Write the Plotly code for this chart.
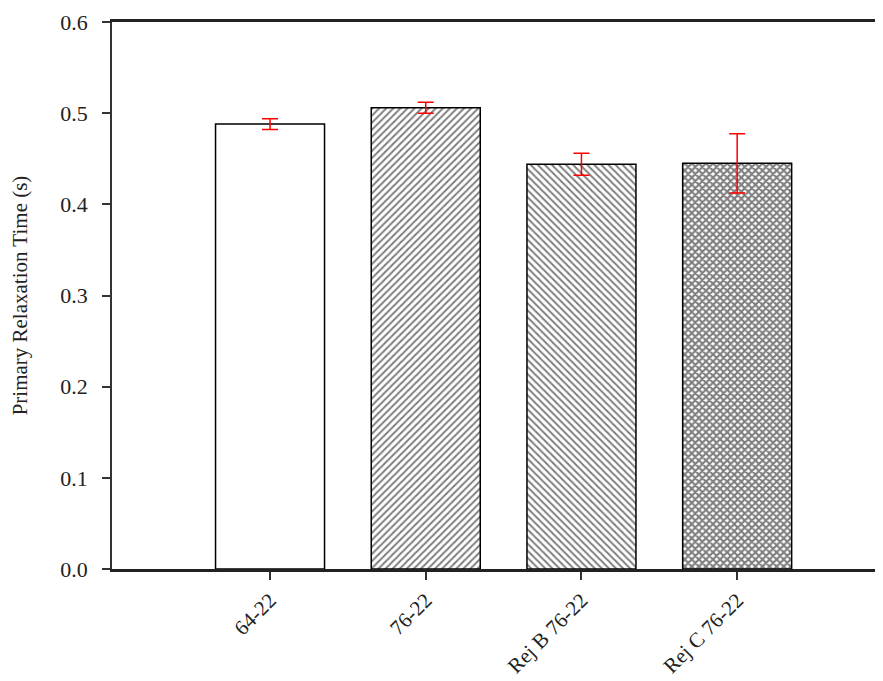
import plotly.graph_objects as go

categories = ["64-22", "76-22", "Rej B 76-22", "Rej C 76-22"]
values = [0.488, 0.506, 0.444, 0.445]
errors = [0.006, 0.006, 0.012, 0.0325]
patterns = ["", "/", "\\", "x"]
y_ticks = [0.0, 0.1, 0.2, 0.3, 0.4, 0.5, 0.6]

fig = go.Figure()
fig.add_trace(go.Bar(
    x=list(range(len(categories))),
    y=values,
    width=0.7,
    marker=dict(
        color="white",
        line=dict(color="black", width=1.5),
        pattern=dict(
            shape=patterns,
            size=[5, 5, 5, 5],
            solidity=[0.4, 0.4, 0.4, 0.65],
            fgcolor="black",
            bgcolor="white",
        ),
    ),
    error_y=dict(type="data", array=errors, color="red", thickness=1.5, width=8),
    showlegend=False,
))

serif = "Liberation Serif, Times New Roman, serif"
fig.update_layout(
    width=883, height=681,
    margin=dict(l=104, r=0, t=14, b=120, autoexpand=False),
    plot_bgcolor="white", paper_bgcolor="white",
    font=dict(family=serif, color="#222"),
    xaxis=dict(
        range=[-1.015, 3.988],
        tickmode="array",
        tickvals=list(range(len(categories))),
        ticktext=categories,
        tickangle=-45,
        ticks="outside", ticklen=8, tickwidth=1.5, tickcolor="#333",
        showline=True, linecolor="#222", linewidth=2.5, mirror=True,
        showgrid=False, zeroline=False,
        tickfont=dict(family=serif, size=21, color="#222"),
    ),
    yaxis=dict(
        range=[0, 0.6],
        tickmode="array",
        tickvals=y_ticks,
        tickformat=".1f",
        ticks="outside", ticklen=8, tickwidth=1.5, tickcolor="#333",
        ticklabelstandoff=10,
        showline=True, linecolor="#333", linewidth=1.5,
        showgrid=False, zeroline=False,
        tickfont=dict(family=serif, size=22, color="#222"),
        title=dict(text="Primary Relaxation Time (s)", font=dict(family=serif, size=21, color="#222"), standoff=28),
    ),
)

fig.write_html("out.html")
